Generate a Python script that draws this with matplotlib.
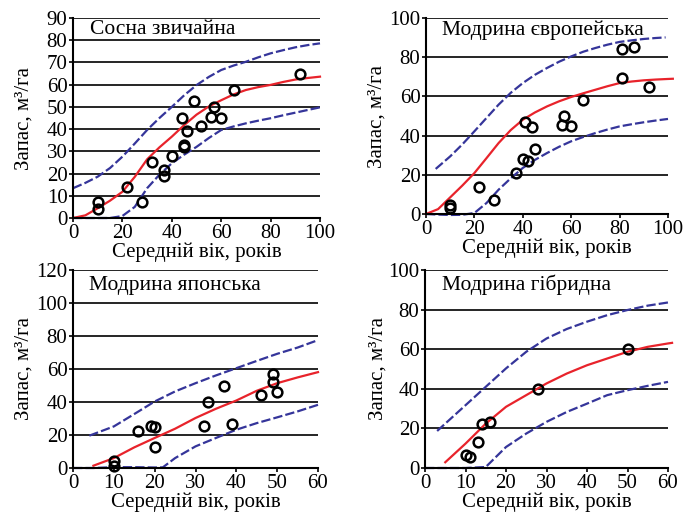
import matplotlib
matplotlib.use("Agg")
import matplotlib.pyplot as plt

plt.rcParams['font.family'] = ['Liberation Serif', 'DejaVu Serif']

# ---------------- data ----------------
# Panel 1: Сосна звичайна
pine_x = [10, 10, 22, 28, 32, 37, 37, 40, 44, 45, 45, 46, 49, 52, 56, 57, 60, 65, 92]
pine_y = [7, 4, 14, 7, 25, 21.5, 19, 28, 45, 33, 32, 39, 52.5, 41.5, 45.5, 50, 45, 57.5, 65]
pine_fit_x = [0, 5, 10, 15, 20, 25, 30, 35, 40, 45, 50, 55, 60, 65, 70, 75, 80, 85, 90, 95, 100]
pine_fit_y = [0, 1.2, 4.4, 7.8, 11.8, 18.5, 26.4, 31.8, 36.6, 41.8, 46.5, 50.2, 53, 55.6, 57.6, 58.9, 59.9, 61.2, 62.3, 63.0, 63.6]
pine_up_y = [13.4, 15.8, 18.6, 22.5, 27.6, 33.5, 39.6, 45, 50, 55.2, 59.8, 63.5, 66.6, 68.6, 70.3, 72.3, 74.1, 75.5, 76.8, 77.8, 78.6]
pine_lo_y = [0, 0, 0, 0, 0.9, 5, 13.4, 19.5, 24.6, 28.5, 32, 36, 39.6, 41.2, 42.6, 43.8, 44.9, 46.2, 47.4, 48.6, 49.8]

# Panel 2: Модрина європейська
eur_x = [10, 10, 22, 28, 37, 40, 42, 41, 44, 45, 56, 57, 60, 65, 81, 81, 86, 92]
eur_y = [4.5, 3, 14, 7, 21, 28, 27, 47, 44.5, 33, 45.5, 50, 45, 58, 69.5, 84, 85, 65]
eur_fit_x = [0, 5, 10, 15, 20, 25, 30, 35, 40, 45, 50, 55, 60, 65, 70, 75, 80, 85, 90, 95, 100, 102]
eur_fit_y = [0, 2.5, 8.5, 14.5, 20.9, 28.5, 36.2, 42.8, 48.1, 51.8, 54.9, 57.5, 59.7, 61.6, 63.4, 65.2, 66.8, 67.6, 68.2, 68.6, 68.9, 69.0]
eur_up_x = [4, 10, 15, 20, 25, 30, 35, 40, 45, 50, 55, 60, 65, 70, 75, 80, 85, 90, 95, 99]
eur_up_y = [23, 29.4, 35.5, 42.2, 49, 55.8, 61.8, 66.8, 71, 74.5, 77.7, 80.4, 82.8, 84.7, 86.4, 87.8, 88.6, 89.3, 89.8, 90.1]
eur_lo_x = [0, 5, 10, 15, 20, 25, 30, 35, 40, 45, 50, 55, 60, 65, 70, 75, 80, 85, 90, 95, 100]
eur_lo_y = [0, -0.3, -0.5, -0.4, 0.5, 5.6, 12.4, 18.2, 23.5, 27.6, 31.1, 34.3, 37.1, 39.3, 41.3, 43.1, 44.7, 45.8, 46.8, 47.7, 48.5]

# Panel 3: Модрина японська
jap_x = [10, 10, 16, 19, 20, 20, 32, 33, 37, 39, 46, 49, 49, 50]
jap_y = [4, 1.5, 22.5, 25.5, 25, 13, 25.5, 40, 50, 26.5, 44, 57, 52, 46]
jap_fit_x = [5, 10, 15, 20, 25, 30, 35, 40, 45, 50, 55, 60]
jap_fit_y = [1.4, 6, 12.5, 18.2, 23.8, 30.3, 35.9, 40.9, 46.8, 51.4, 54.9, 58.1]
jap_up_x = [4, 10, 15, 20, 25, 30, 35, 40, 45, 50, 55, 60]
jap_up_y = [19.6, 25.2, 32.7, 40.3, 46.4, 51.4, 56.1, 60.5, 64.9, 69.2, 73, 77.5]
jap_lo_x = [0, 5, 10, 15, 20, 22, 25, 30, 35, 40, 45, 50, 55, 60]
jap_lo_y = [0, 0, 0.5, 0.5, 0.3, 0.4, 6, 13.1, 18.2, 23.2, 27.2, 30.7, 34.3, 38.3]

# Panel 4: Модрина гібридна
hyb_x = [10, 11, 13, 14, 16, 28, 50]
hyb_y = [6.5, 5.5, 13, 22, 23, 40, 60]
hyb_fit_x = [5, 10, 15, 20, 25, 30, 35, 40, 45, 50, 55, 60, 61]
hyb_fit_y = [2.9, 12.3, 22.4, 30.9, 36.8, 42.7, 47.7, 51.9, 55.3, 58.7, 61.2, 62.9, 63.2]
hyb_up_x = [3, 10, 15, 20, 25, 30, 35, 40, 45, 50, 55, 60]
hyb_up_y = [18.7, 31.7, 41, 50.3, 58.7, 65.4, 70.2, 73.9, 77.2, 79.8, 82, 83.6]
hyb_lo_x = [0, 5, 10, 15, 20, 25, 30, 35, 40, 45, 50, 55, 60]
hyb_lo_y = [0, 0, 0, 0.5, 10.6, 17.4, 23.3, 28.3, 32.5, 36.8, 39.3, 41.5, 43.5]

titles = ["Сосна звичайна", "Модрина європейська", "Модрина японська", "Модрина гібридна"]
xlabel = "Середній вік, років"
ylabel = "Запас, м³/га"

# ---------------- drawing ----------------
RED = '#e8232b'
BLUE = '#35359a'
DASH = (0, (4.2, 1.4))

fig = plt.figure(figsize=(6.89, 5.15), dpi=100)

rects = [
    [73 / 689, 1 - 218 / 515, (320 - 73) / 689, 200 / 515],
    [426 / 689, 1 - 214 / 515, (668 - 426) / 689, 196 / 515],
    [73 / 689, 1 - 468 / 515, (318 - 73) / 689, 198 / 515],
    [425 / 689, 1 - 468 / 515, (668 - 425) / 689, 198 / 515],
]
title_pos = [(0.069, 0.94), (0.066, 0.939), (0.065, 0.924), (0.07, 0.924)]
ylabel_x = [-0.158, -0.161, -0.159, -0.156]

panels = [
    dict(px=pine_x, py=pine_y, fx=pine_fit_x, fy=pine_fit_y, ux=pine_fit_x, uy=pine_up_y,
         lx=pine_fit_x, ly=pine_lo_y, xmax=100, xstep=20, ymax=90, ystep=10),
    dict(px=eur_x, py=eur_y, fx=eur_fit_x, fy=eur_fit_y, ux=eur_up_x, uy=eur_up_y,
         lx=eur_lo_x, ly=eur_lo_y, xmax=100, xstep=20, ymax=100, ystep=20),
    dict(px=jap_x, py=jap_y, fx=jap_fit_x, fy=jap_fit_y, ux=jap_up_x, uy=jap_up_y,
         lx=jap_lo_x, ly=jap_lo_y, xmax=60, xstep=10, ymax=120, ystep=20),
    dict(px=hyb_x, py=hyb_y, fx=hyb_fit_x, fy=hyb_fit_y, ux=hyb_up_x, uy=hyb_up_y,
         lx=hyb_lo_x, ly=hyb_lo_y, xmax=60, xstep=10, ymax=100, ystep=20),
]

for rect, p, title, tp, ylx in zip(rects, panels, titles, title_pos, ylabel_x):
    ax = fig.add_axes(rect)
    ax.set_xlim(0, p['xmax'])
    ax.set_ylim(0, p['ymax'])
    ax.set_xticks(range(0, p['xmax'] + 1, p['xstep']))
    ax.set_yticks(range(0, p['ymax'] + 1, p['ystep']))
    for v in range(p['ystep'], p['ymax'] + 1, p['ystep']):
        ax.axhline(v, color='black', lw=1.2, zorder=1)
    ax.plot(p['ux'], p['uy'], color=BLUE, lw=1.6, ls=DASH, zorder=3, clip_on=False)
    ax.plot(p['lx'], p['ly'], color=BLUE, lw=1.6, ls=DASH, zorder=3, clip_on=False)
    ax.plot(p['fx'], p['fy'], color=RED, lw=1.6, zorder=4, clip_on=False)
    ax.plot(p['px'], p['py'], 'o', mfc='none', mec='black', mew=1.8, ms=7, zorder=5,
            clip_on=False)
    for s in ['top', 'right']:
        ax.spines[s].set_visible(False)
    for s in ['left', 'bottom']:
        ax.spines[s].set_linewidth(1.5)
        ax.spines[s].set_zorder(6)
    ax.tick_params(axis='both', direction='out', length=3, width=1.2, pad=1)
    ax.tick_params(axis='x', labelsize=15)
    ax.tick_params(axis='y', labelsize=15)
    ax.set_xlabel(xlabel, fontsize=15, labelpad=0)
    ax.set_ylabel(ylabel, fontsize=15)
    ax.yaxis.set_label_coords(ylx, 0.5)
    ax.text(tp[0], tp[1], title, transform=ax.transAxes, fontsize=15.5,
            ha='left', va='center')

fig.savefig('out.png', dpi=100)
